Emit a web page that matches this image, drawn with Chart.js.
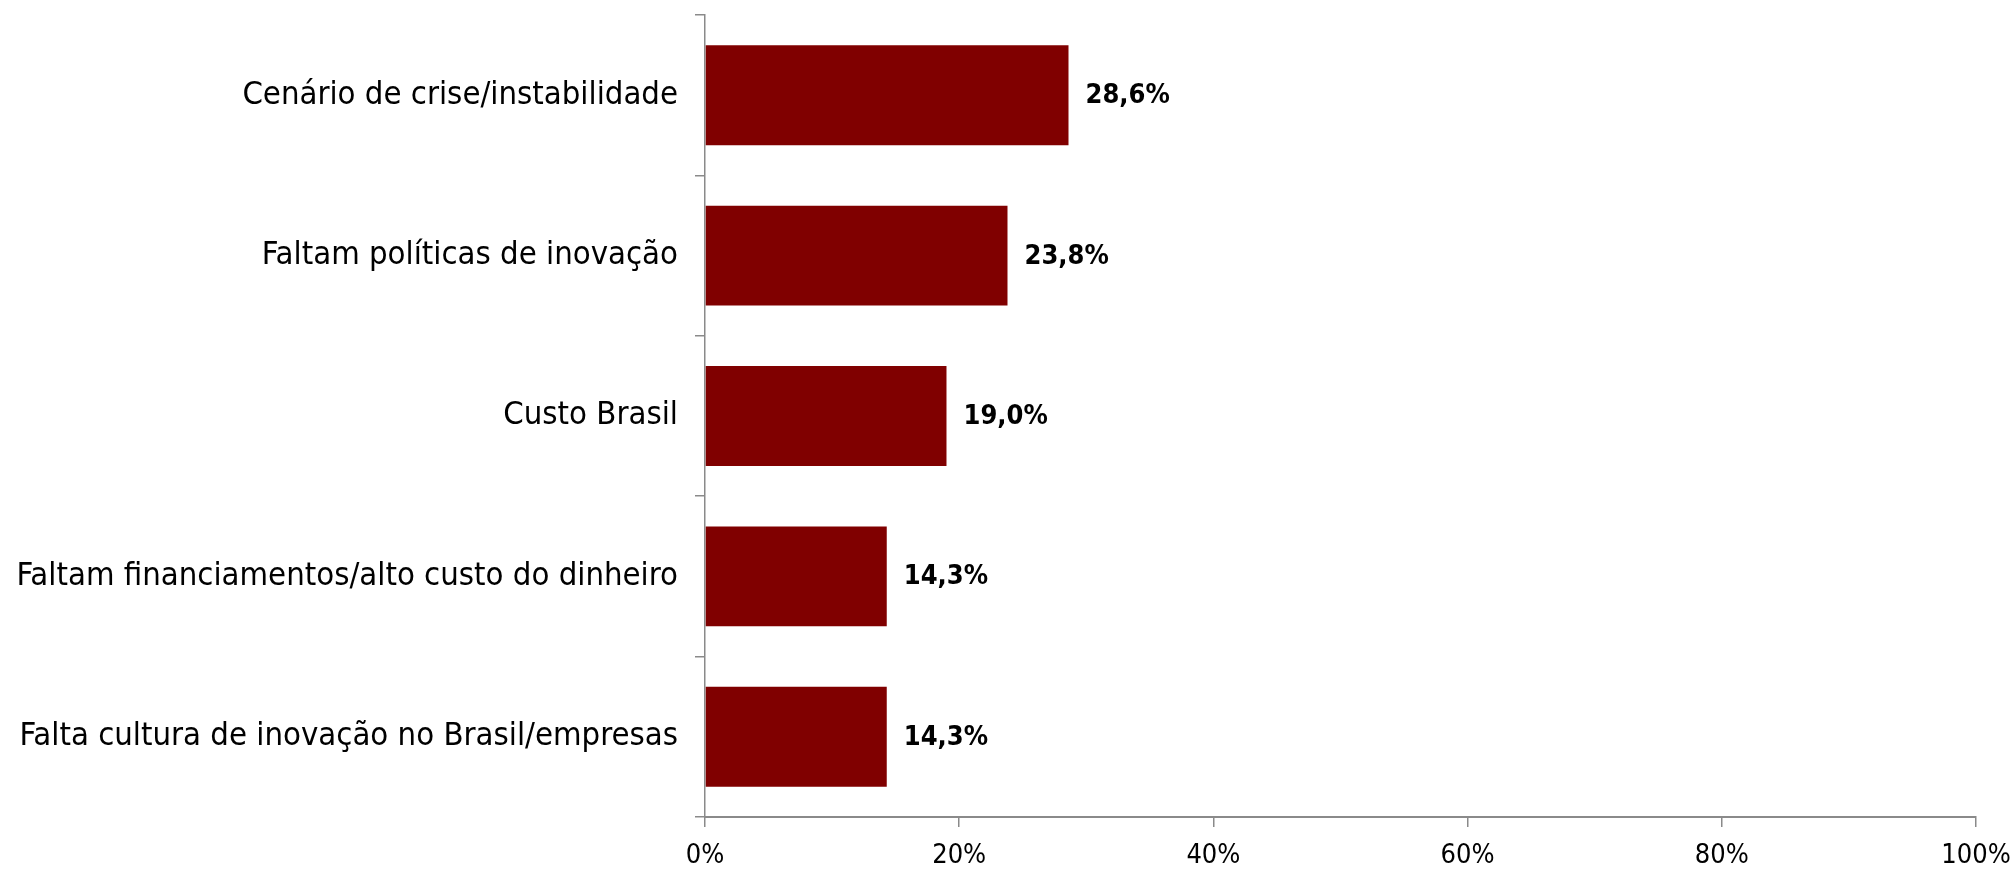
<!DOCTYPE html>
<html>
<head>
    <meta charset="utf-8">
    <script src="https://cdn.jsdelivr.net/npm/chart.js@4.4.1/dist/chart.umd.min.js"></script>
    <style>
        body { margin: 0; background: #fff; }
    </style>
</head>
<body>
<div style="width: 2016px; height: 873px;">
    <canvas id="myChart" width="2016" height="873"></canvas>
</div>

<script>
    const categories = [
        "Cenário de crise/instabilidade",
        "Faltam políticas de inovação",
        "Custo Brasil",
        "Faltam financiamentos/alto custo do dinheiro",
        "Falta cultura de inovação no Brasil/empresas"
    ];
    const values = [28.6, 23.8, 19.0, 14.3, 14.3];
    const xTicks = [0, 20, 40, 60, 80, 100];

    const fontFamily = "'DejaVu Sans Condensed', 'DejaVu Sans', sans-serif";
    const axisColor = "#8a8a8a";

    // draws the value next to each bar, like "28,6%"
    const valueLabels = {
        id: "valueLabels",
        afterDatasetsDraw(chart) {
            const ctx = chart.ctx;
            const meta = chart.getDatasetMeta(0);
            ctx.save();
            ctx.font = "bold 27px " + fontFamily;
            ctx.fillStyle = "#000";
            ctx.textAlign = "left";
            ctx.textBaseline = "middle";
            meta.data.forEach((bar, i) => {
                const txt = values[i].toFixed(1).replace(".", ",") + "%";
                ctx.fillText(txt, bar.x + 17, bar.y + 1);
            });
            ctx.restore();
        }
    };

    new Chart("myChart", {
        type: "bar",
        data: {
            labels: categories,
            datasets: [{
                data: values,
                backgroundColor: "#800000",
                barPercentage: 0.623,
                categoryPercentage: 1.0
            }]
        },
        options: {
            indexAxis: "y",
            responsive: false,
            animation: false,
            layout: { padding: { top: 15, right: 40, bottom: 0, left: 0 } },
            plugins: {
                legend: { display: false },
                tooltip: { enabled: false }
            },
            scales: {
                x: {
                    min: 0,
                    max: 100,
                    afterBuildTicks: (scale) => {
                        scale.ticks = xTicks.map(v => ({ value: v }));
                    },
                    afterFit: (scale) => {
                        scale.height = 56;
                        scale.paddingLeft = 0;
                        scale.paddingRight = 0;
                    },
                    ticks: {
                        callback: (v) => v + "%",
                        color: "#000",
                        font: { family: fontFamily, size: 27 },
                        padding: 13,
                        maxRotation: 0
                    },
                    grid: {
                        drawOnChartArea: false,
                        drawTicks: true,
                        tickLength: 10,
                        color: axisColor,
                        lineWidth: 1.5
                    },
                    border: { color: axisColor, width: 2 }
                },
                y: {
                    afterFit: (scale) => {
                        scale.width = 705;
                        scale.paddingTop = 0;
                        scale.paddingBottom = 0;
                    },
                    ticks: {
                        color: "#000",
                        font: { family: fontFamily, size: 32.6 },
                        padding: 17
                    },
                    grid: {
                        offset: true,
                        drawOnChartArea: false,
                        drawTicks: true,
                        tickLength: 10,
                        color: axisColor,
                        lineWidth: 1.5
                    },
                    border: { color: axisColor, width: 1.5 }
                }
            }
        },
        plugins: [valueLabels]
    });
</script>
</body>
</html>
